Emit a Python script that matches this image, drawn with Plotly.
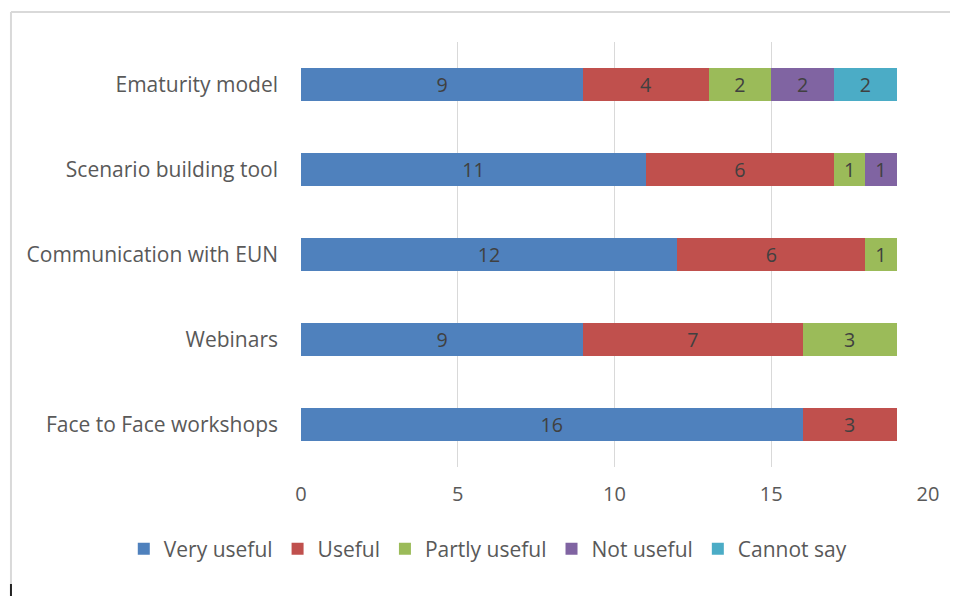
import plotly.graph_objects as go

categories = ["Ematurity model", "Scenario building tool", "Communication with EUN",
              "Webinars", "Face to Face workshops"]
very_useful = [9, 11, 12, 9, 16]
useful = [4, 6, 6, 7, 3]
partly_useful = [2, 1, 1, 3, None]
not_useful = [2, 1, None, None, None]
cannot_say = [2, None, None, None, None]

series_names = ["Very useful", "Useful", "Partly useful", "Not useful", "Cannot say"]
series_values = [very_useful, useful, partly_useful, not_useful, cannot_say]
colors = ["#4F81BD", "#C0504D", "#9BBB59", "#8064A2", "#4BACC6"]
x_ticks = [0, 5, 10, 15, 20]

FONT = "'Open Sans', Lato, sans-serif"
FS = 21
TXT = "#595959"

fig = go.Figure()
for name, vals, col in zip(series_names, series_values, colors):
    fig.add_trace(go.Bar(
        y=categories, x=vals, name=name, orientation="h",
        marker=dict(color=col, line=dict(width=0)),
        text=[("" if v is None else str(v)) for v in vals],
        textposition="inside", insidetextanchor="middle", textangle=0,
        insidetextfont=dict(family=FONT, size=FS - 1, color="#404040"),
        hoverinfo="x+y+name",
    ))

# page has an 8px body margin, so figure coords = page coords - 8
OFF = 8
W, H = 958 - OFF, 596 - OFF
ml, mr, mt, mb = 300.5 - OFF, W - (928.5 - OFF), 42 - OFF, H - (467 - OFF)
pw, ph = W - ml - mr, H - mt - mb

def px(x):
    return (x - OFF - ml) / pw

def py(y):
    return 1 - (y - OFF - mt) / ph

fig.update_layout(
    width=W, height=H, barmode="stack", bargap=0.617,
    margin=dict(l=ml, r=mr, t=mt, b=mb, autoexpand=False),
    paper_bgcolor="white", plot_bgcolor="white",
    font=dict(family=FONT, size=FS, color=TXT),
    xaxis=dict(range=[0, 20], tickvals=x_ticks, showgrid=True, gridcolor="#D9D9D9",
               gridwidth=1, zeroline=False, showline=False, ticks="",
               ticklabelstandoff=13, tickfont=dict(size=FS - 1, color=TXT)),
    yaxis=dict(autorange="reversed", showgrid=False, zeroline=False, showline=False,
               ticks="", ticklabelstandoff=22, tickfont=dict(size=FS, color=TXT)),
    legend=dict(orientation="h", xref="paper", x=px(123), xanchor="left",
                y=py(549), yanchor="middle", traceorder="normal",
                font=dict(size=FS, color=TXT), itemclick=False, itemwidth=30,
                tracegroupgap=0),
    showlegend=True,
    shapes=[
        dict(type="line", xref="paper", yref="paper", x0=px(10), x1=px(958),
             y0=py(12), y1=py(12), line=dict(color="#D9D9D9", width=2)),
        dict(type="line", xref="paper", yref="paper", x0=px(10), x1=px(10),
             y0=py(12), y1=py(596), line=dict(color="#D9D9D9", width=2)),
        dict(type="line", xref="paper", yref="paper", x0=px(10), x1=px(10),
             y0=py(584), y1=py(596), line=dict(color="#222222", width=2)),
    ],
)

fig.write_html("out.html")
